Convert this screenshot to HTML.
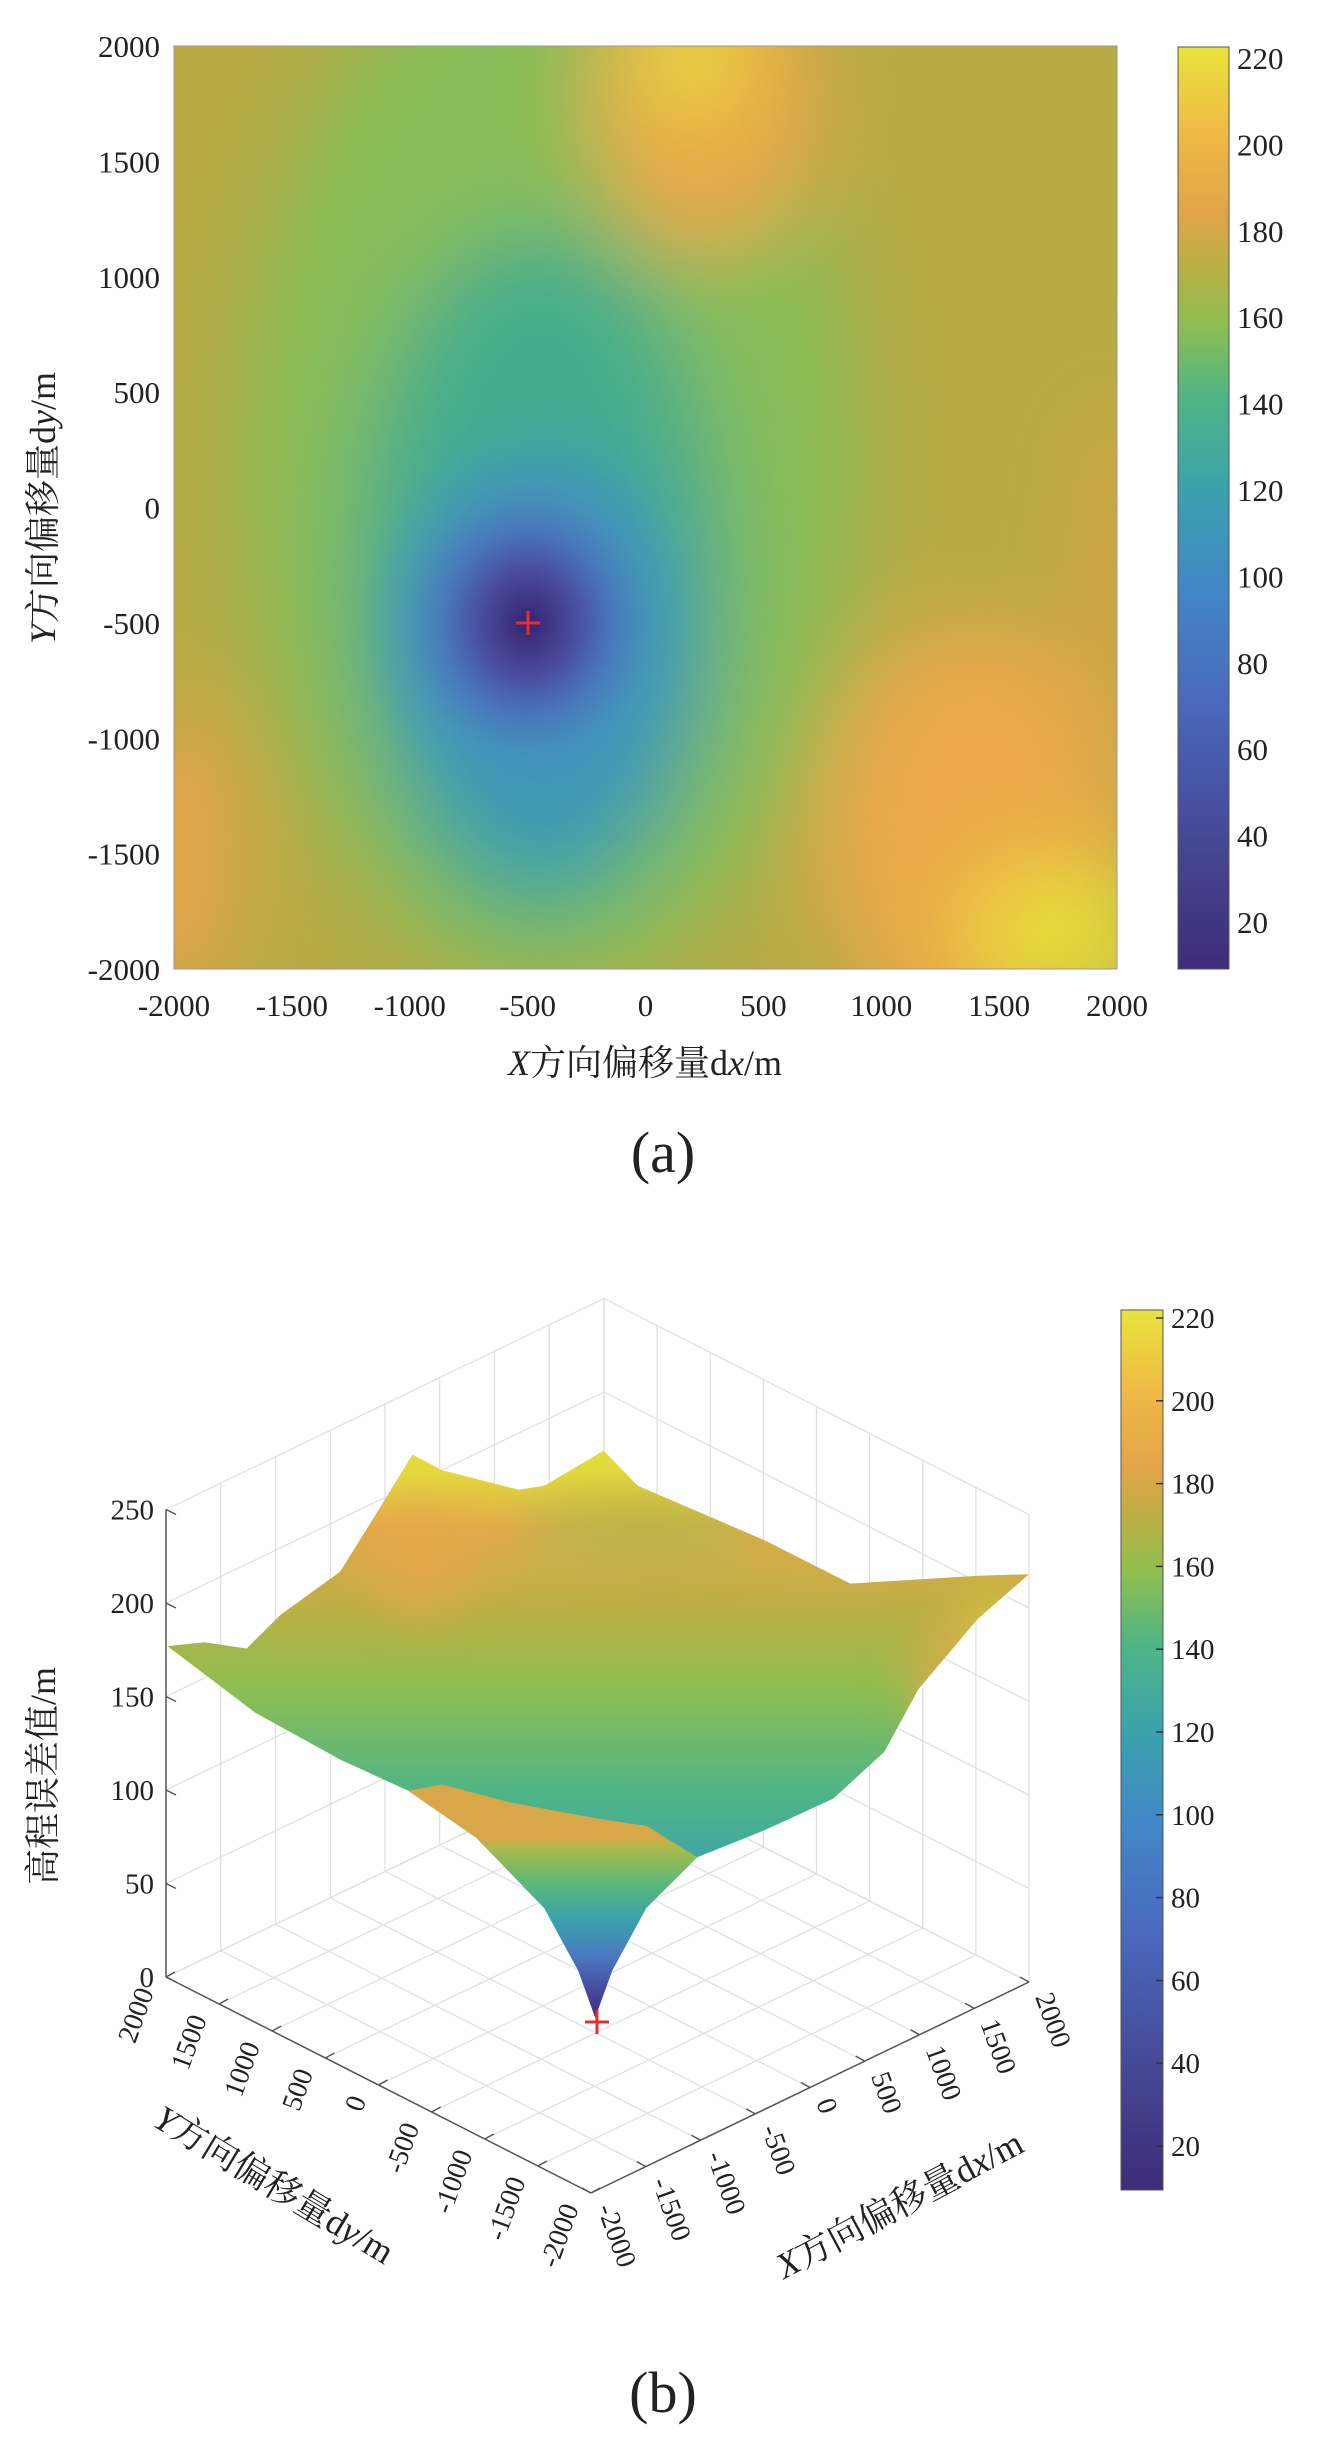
<!DOCTYPE html>
<html><head><meta charset="utf-8"><style>
html,body{margin:0;padding:0;background:#fff;}
svg{display:block;}
text{font-family:"Liberation Serif","Noto Serif CJK SC",serif;fill:#222;}
</style></head><body>
<svg id="s" width="1326" height="2439" viewBox="0 0 1326 2439" xmlns="http://www.w3.org/2000/svg">
<defs>
<linearGradient id="cb" x1="0" y1="1" x2="0" y2="0">
<stop offset="0" stop-color="#3e2c78"/><stop offset="0.15" stop-color="#464a98"/>
<stop offset="0.3" stop-color="#4a6bbf"/><stop offset="0.42" stop-color="#4288c6"/>
<stop offset="0.52" stop-color="#3aa2ac"/><stop offset="0.62" stop-color="#4fb585"/>
<stop offset="0.7" stop-color="#8fbe50"/><stop offset="0.76" stop-color="#b8b045"/>
<stop offset="0.82" stop-color="#e2a448"/><stop offset="0.9" stop-color="#f0b646"/>
<stop offset="1" stop-color="#e8e43a"/></linearGradient>
<filter id="bl" x="-50%" y="-50%" width="200%" height="200%"><feGaussianBlur stdDeviation="190"/></filter>
<filter id="bl2" x="-50%" y="-50%" width="200%" height="200%"><feGaussianBlur stdDeviation="25"/></filter>
<clipPath id="hc"><rect x="-2000" y="-2000" width="4000" height="4000"/></clipPath>
<clipPath id="sc"><polygon id="surfclip"/></clipPath>
<radialGradient id="cone" cx="0.5" cy="0.5" r="0.5">
<stop offset="0" stop-color="#33216c"/><stop offset="0.1" stop-color="#3e3282"/>
<stop offset="0.28" stop-color="#4a4c9e"/><stop offset="0.5" stop-color="#4a72bc" stop-opacity="0.85"/>
<stop offset="0.75" stop-color="#4590c0" stop-opacity="0.4"/><stop offset="1" stop-color="#40a0b0" stop-opacity="0"/></radialGradient>
<linearGradient id="sg" gradientUnits="userSpaceOnUse" x1="0" y1="1470" x2="0" y2="1930">
<stop offset="0" stop-color="#e4dc3c"/><stop offset="0.13" stop-color="#e2aa4a"/>
<stop offset="0.3" stop-color="#bcb044"/><stop offset="0.47" stop-color="#8fbe50"/>
<stop offset="0.7" stop-color="#4fb585"/><stop offset="0.9" stop-color="#3aa2ac"/>
<stop offset="1" stop-color="#4290c0"/></linearGradient>
<linearGradient id="vg" gradientUnits="userSpaceOnUse" x1="0" y1="1838" x2="0" y2="2020">
<stop offset="0" stop-color="#d8a848"/><stop offset="0.06" stop-color="#a8bb4c"/>
<stop offset="0.25" stop-color="#5cb87a"/><stop offset="0.45" stop-color="#3aa2ac"/>
<stop offset="0.65" stop-color="#4a78c0"/><stop offset="0.85" stop-color="#46489a"/>
<stop offset="1" stop-color="#3a2874"/></linearGradient>
</defs>

<g transform="translate(645.5,507.5) scale(0.23575,-0.23075)">
<g clip-path="url(#hc)">
<rect x="-2000" y="-2000" width="4000" height="4000" fill="#b7ab45"/>
<g filter="url(#bl)">
<ellipse cx="-400" cy="200" rx="1300" ry="2300" fill="#86bd58"/>
<ellipse cx="-450" cy="-300" rx="780" ry="1500" fill="#42ad8c"/>
<ellipse cx="-420" cy="-650" rx="600" ry="900" fill="#3f96b8"/>
<ellipse cx="250" cy="1800" rx="480" ry="700" fill="#eaa64a"/>
<ellipse cx="200" cy="1950" rx="220" ry="300" fill="#e6d83c"/>
<ellipse cx="1400" cy="-1400" rx="650" ry="900" fill="#eca84a"/>
<ellipse cx="1750" cy="-1850" rx="400" ry="300" fill="#e8de3a"/>
<ellipse cx="-2000" cy="-1500" rx="260" ry="650" fill="#e8a44a"/>
<ellipse cx="2000" cy="-200" rx="200" ry="700" fill="#d2a442"/>
</g>
<ellipse cx="-500" cy="-500" rx="720" ry="820" fill="url(#cone)"/>
</g>
</g>
<rect x="174" y="46" width="943" height="923" fill="none" stroke="#999" stroke-width="1"/>
<g stroke="#e03030" stroke-width="3"><line x1="516" y1="623" x2="540" y2="623"/><line x1="528" y1="611" x2="528" y2="635"/></g>
<g id="ta"></g>

<rect x="1178" y="47" width="51" height="922" fill="url(#cb)" stroke="#555" stroke-width="1"/>
<rect x="1121" y="1310" width="42" height="880" fill="url(#cb)" stroke="#555" stroke-width="1"/>

<g id="grid"></g>
<polygon id="surf" fill="url(#sg)"/>
<g clip-path="url(#sc)">
<g filter="url(#bl2)" opacity="0.75">
<ellipse cx="420" cy="1560" rx="50" ry="55" fill="#eaa64a"/>
<ellipse cx="960" cy="1680" rx="50" ry="60" fill="#eaa64a"/>
<ellipse cx="1000" cy="1625" rx="30" ry="20" fill="#e8d83c"/>
<ellipse cx="640" cy="1530" rx="120" ry="25" fill="#9ebc4c"/>
</g></g>
<polygon id="valley" fill="url(#vg)"/>
<g stroke="#e03030" stroke-width="3"><line x1="585" y1="2022" x2="609" y2="2022"/><line x1="597" y1="2010" x2="597" y2="2034"/></g>
<g id="tb"></g>
</svg>
<script>
var NS="http://www.w3.org/2000/svg",S=document.getElementById('s');
function el(p,t,a,txt){var e=document.createElementNS(NS,t);for(var k in a)e.setAttribute(k,a[k]);if(txt!==undefined)e.textContent=txt;p.appendChild(e);return e;}
var ta=document.getElementById('ta'),tb=document.getElementById('tb'),gr=document.getElementById('grid');
for(var v=-2000;v<=2000;v+=500){
 var x=174+(v+2000)*0.23575;
 el(ta,'text',{x:x,y:1016,'font-size':31,'text-anchor':'middle'},String(v));
 var y=46+(2000-v)*0.23075;
 el(ta,'text',{x:160,y:y+11,'font-size':31,'text-anchor':'end'},String(v));
}
el(ta,'text',{x:645,y:1075,'font-size':36,'text-anchor':'middle'}).innerHTML='<tspan font-style="italic">X</tspan>方向偏移量d<tspan font-style="italic">x</tspan>/m';
el(ta,'text',{x:0,y:0,'font-size':36,'text-anchor':'middle',transform:'translate(55,508) rotate(-90)'}).innerHTML='<tspan font-style="italic">Y</tspan>方向偏移量d<tspan font-style="italic">y</tspan>/m';
el(ta,'text',{x:663,y:1172,'font-size':58,'text-anchor':'middle'},'(a)');
function cbt(g,x0,x1,yTop,ySpace,fs){for(var i=0;i<11;i++){var v=220-20*i,y=yTop+i*ySpace;
 el(g,'line',{x1:x1-7,y1:y,x2:x1,y2:y,stroke:'#333','stroke-width':1.5});
 el(g,'text',{x:x1+8,y:y+10,'font-size':fs},String(v));}}
cbt(ta,1178,1229,59,86.4,31);
cbt(tb,1121,1163,1318,82.8,29);
function P(x,y,z){return [591+(x+2000)*0.1095+(y+2000)*(-0.10625),2193+(x+2000)*(-0.05275)+(y+2000)*(-0.054)-z*1.87];}
function L(a,b,c,w){el(gr,'line',{x1:a[0],y1:a[1],x2:b[0],y2:b[1],stroke:c,'stroke-width':w||1.2});}
var gc='#dedede';
for(var v=-2000;v<=2000;v+=500){
 L(P(v,-2000,0),P(v,2000,0),gc);L(P(-2000,v,0),P(2000,v,0),gc);
 L(P(v,2000,0),P(v,2000,250),gc);L(P(2000,v,0),P(2000,v,250),gc);}
for(var z=0;z<=250;z+=50){L(P(-2000,2000,z),P(2000,2000,z),gc);L(P(2000,-2000,z),P(2000,2000,z),gc);}
var ac='#555';
L(P(-2000,-2000,0),P(-2000,2000,0),ac,1.5);L(P(-2000,-2000,0),P(2000,-2000,0),ac,1.5);L(P(-2000,2000,0),P(-2000,2000,250),ac,1.5);
for(var z=0;z<=250;z+=50){var p=P(-2000,2000,z);L(p,[p[0]+10,p[1]+5],ac,1.5);
 el(tb,'text',{x:p[0]-12,y:p[1]+10,'font-size':29,'text-anchor':'end'},String(z));}
for(var v=-2000;v<=2000;v+=500){
 var p=P(-2000,v,0);L(p,[p[0]+9,p[1]-5],ac,1.5);
 el(tb,'text',{x:0,y:0,'font-size':28,'text-anchor':'end','dominant-baseline':'central',transform:'translate('+(p[0]-20)+','+(p[1]+12)+') rotate(-70)'},String(v));
 var q=P(v,-2000,0);L(q,[q[0]-9,q[1]-5],ac,1.5);
 el(tb,'text',{x:0,y:0,'font-size':28,'text-anchor':'start','dominant-baseline':'central',transform:'translate('+(q[0]+14)+','+(q[1]+12)+') rotate(70)'},String(v));
}
el(tb,'text',{x:0,y:0,'font-size':36,'text-anchor':'middle',transform:'translate(55,1776) rotate(-90)'},'高程误差值/m');
el(tb,'text',{x:0,y:0,'font-size':36,'text-anchor':'middle',transform:'translate(268,2195) rotate(31)'}).innerHTML='<tspan font-style="italic">Y</tspan>方向偏移量d<tspan font-style="italic">y</tspan>/m';
el(tb,'text',{x:0,y:0,'font-size':36,'text-anchor':'middle',transform:'translate(905,2215) rotate(-28)'}).innerHTML='<tspan font-style="italic">X</tspan>方向偏移量d<tspan font-style="italic">x</tspan>/m';
el(tb,'text',{x:663,y:2412,'font-size':58,'text-anchor':'middle'},'(b)');
function cv(a){return a.map(function(p){return (p[0]/1.176).toFixed(1)+','+(p[1]/1.279+1220).toFixed(1);}).join(' ');}
var surf=[[197,545],[240,540],[290,548],[330,505],[400,450],[440,380],[485,300],[520,320],[610,345],[640,340],[710,295],[750,340],[900,410],[1000,465],[1150,455],[1210,453],[1150,510],[1080,600],[1040,680],[980,740],[900,780],[820,815],[760,880],[720,960],[700,1020],[680,960],[640,880],[560,790],[480,730],[400,690],[300,630]];
document.getElementById('surf').setAttribute('points',cv(surf));
document.getElementById('surfclip').setAttribute('points',cv(surf));
var val=[[480,730],[520,722],[600,745],[700,765],[760,775],[820,815],[760,880],[720,960],[700,1020],[680,960],[640,880],[560,790]];
document.getElementById('valley').setAttribute('points',cv(val));
</script>
</body></html>
